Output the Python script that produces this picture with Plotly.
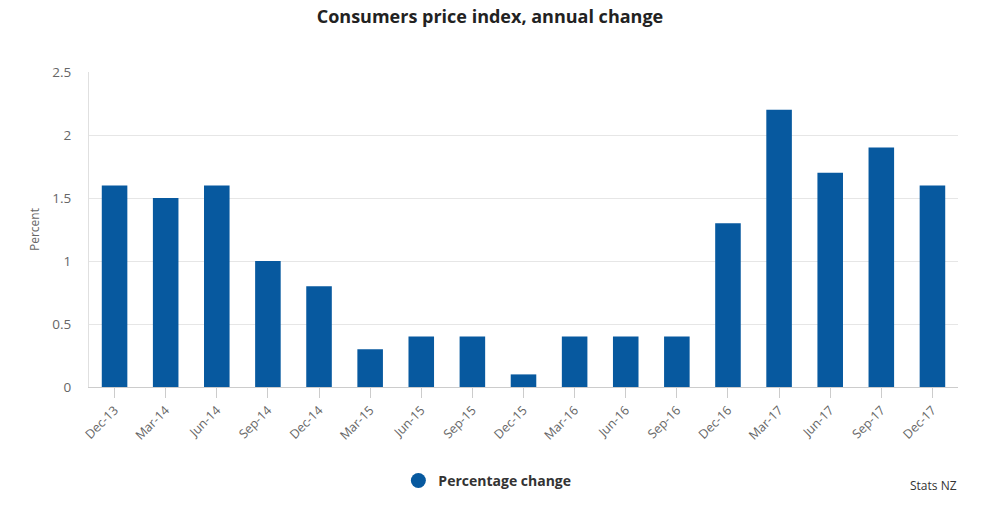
import plotly.graph_objects as go

quarters = ["Dec-13", "Mar-14", "Jun-14", "Sep-14", "Dec-14", "Mar-15", "Jun-15", "Sep-15",
            "Dec-15", "Mar-16", "Jun-16", "Sep-16", "Dec-16", "Mar-17", "Jun-17", "Sep-17", "Dec-17"]
pct_change = [1.6, 1.5, 1.6, 1.0, 0.8, 0.3, 0.4, 0.4, 0.1, 0.4, 0.4, 0.4, 1.3, 2.2, 1.7, 1.9, 1.6]
y_ticks = [0, 0.5, 1, 1.5, 2, 2.5]
y_tick_labels = ["0", "0.5", "1", "1.5", "2", "2.5"]

BAR = "#07599f"
font_family = "Open Sans, Lato, sans-serif"

fig = go.Figure()
fig.add_trace(go.Bar(x=quarters, y=pct_change, marker=dict(color=BAR, line=dict(width=0)),
                     width=0.5, showlegend=False, name="Percentage change"))
fig.add_trace(go.Scatter(x=[quarters[0]], y=[None], mode="markers",
                         marker=dict(symbol="circle", size=15, color=BAR),
                         name="<b>Percentage change</b>", showlegend=True))

fig.update_layout(
    width=1003, height=518,
    margin=dict(l=89, r=45, t=72, b=131),
    paper_bgcolor="white", plot_bgcolor="white",
    font=dict(family=font_family, color="#666666"),
    title=dict(text="<b>Consumers price index, annual change</b>", x=0.4885, xanchor="center",
               y=0.967, yanchor="middle", font=dict(size=18, color="#222222", family=font_family)),
    bargap=0.5,
    legend=dict(orientation="h", x=0.356, xanchor="left", y=-0.298, yanchor="middle",
                font=dict(size=14, color="#333333", family=font_family), itemsizing="trace",
                bgcolor="rgba(0,0,0,0)"),
    xaxis=dict(type="category", tickangle=-45, tickfont=dict(size=12.5, color="#666666"),
               range=[-0.5, len(quarters) - 0.5], autorange=False,
               showline=True, linecolor="#cccccc", linewidth=1, automargin=False,
               ticks="outside", ticklen=10, tickcolor="#cccccc", showgrid=False),
    yaxis=dict(range=[0, 2.5], tickvals=y_ticks, ticktext=y_tick_labels,
               tickfont=dict(size=13.5, color="#666666"), automargin=False,
               showgrid=True, gridcolor="#e6e6e6", gridwidth=1,
               showline=True, linecolor="#e0e0e0", linewidth=1, zeroline=False,
               ticks="", ticklabelstandoff=14,
               title=dict(text="Percent", font=dict(size=12, color="#666666"), standoff=10)),
)
fig.add_annotation(text="Stats NZ", xref="paper", yref="paper", x=0.9425, y=-0.314,
                   xanchor="left", yanchor="middle", showarrow=False,
                   font=dict(size=12, color="#333333", family=font_family))

fig.write_html("out.html", config={"displayModeBar": False},
               post_script="document.body.style.margin='0';")
